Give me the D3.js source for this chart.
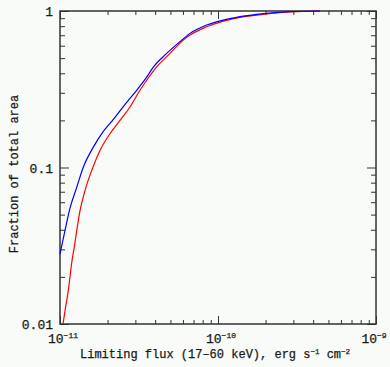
<!DOCTYPE html>
<html>
<head>
<meta charset="utf-8">
<script src="https://cdn.jsdelivr.net/npm/d3@7"></script>
<style>
  body { margin: 0; background: #f8fbf8; }
  text { font-family: "Liberation Mono", "Courier New", monospace; fill: #1a1a1a; stroke: #1a1a1a; stroke-width: 0.25px; }
</style>
</head>
<body>
<div id="chart"></div>
<script>
var width = 390;
var height = 367;
var margin = {left: 60, right: 14, top: 11, bottom: 43};

// limiting flux (erg s^-1 cm^-2) and fraction of total area
var blueFlux = [1.000e-11, 1.075e-11, 1.157e-11, 1.276e-11, 1.404e-11, 1.625e-11, 1.880e-11, 2.175e-11,
    2.643e-11, 3.057e-11, 3.537e-11, 3.895e-11, 4.734e-11, 5.747e-11, 6.648e-11, 8.483e-11,
    1.377e-10, 2.033e-10, 2.855e-10, 4.42e-10];
var blueFrac = [0.0280, 0.0395, 0.0550, 0.0747, 0.1004, 0.1349, 0.1701, 0.2031,
    0.2610, 0.3115, 0.3776, 0.4375, 0.5356, 0.6374, 0.7195, 0.8134,
    0.9194, 0.9666, 0.9897, 1.0];

var redFlux = [1.045e-11, 1.075e-11, 1.128e-11, 1.186e-11, 1.235e-11, 1.276e-11, 1.339e-11, 1.439e-11,
    1.587e-11, 1.791e-11, 2.072e-11, 2.398e-11, 2.773e-11, 3.208e-11, 3.537e-11, 4.092e-11,
    4.968e-11, 6.031e-11, 6.648e-11, 8.483e-11, 1.377e-10, 2.033e-10, 2.855e-10, 4.42e-10];
var redFrac = [0.0100, 0.0121, 0.0163, 0.0246, 0.0316, 0.0395, 0.0530, 0.0712,
    0.0957, 0.1285, 0.1644, 0.2001, 0.2435, 0.3115, 0.3611, 0.4394,
    0.5356, 0.6516, 0.7017, 0.7930, 0.9113, 0.9567, 0.9853, 1.0];

var xMajor = [1e-11, 1e-10, 1e-9];
var xMajorExp = ["-11", "-10", "-9"];
var yMajor = [0.01, 0.1, 1];
var yMajorLabels = ["0.01", "0.1", "1"];

var svg = d3.select("#chart").append("svg")
    .attr("width", width)
    .attr("height", height);

var x = d3.scaleLog().domain([1e-11, 1e-9]).range([margin.left, width - margin.right]);
var y = d3.scaleLog().domain([0.01, 1]).range([height - margin.bottom, margin.top]);

// minor tick positions 2..9 in each decade
function minors(lo, hi) {
    var out = [];
    for (var d = lo; d < hi * 0.99; d *= 10) {
        for (var k = 2; k <= 9; k++) out.push(d * k);
    }
    return out;
}
var xMinor = minors(1e-11, 1e-9);
var yMinor = minors(0.01, 1);

var tickColor = "#333";

function drawAxis(axis, transform) {
    var g = svg.append("g").attr("class", "axis").attr("transform", transform).call(axis);
    g.select(".domain").remove();
    g.selectAll(".tick line").attr("stroke", tickColor).attr("stroke-width", 1);
    return g;
}

var x0 = margin.left, x1 = width - margin.right;
var y0 = height - margin.bottom, y1 = margin.top;
var noLabel = function() { return ""; };

// inward ticks on all four sides
drawAxis(d3.axisBottom(x).tickValues(xMajor).tickSize(-8).tickFormat(noLabel), "translate(0," + y0 + ")");
drawAxis(d3.axisBottom(x).tickValues(xMinor).tickSize(-4).tickFormat(noLabel), "translate(0," + y0 + ")");
drawAxis(d3.axisTop(x).tickValues(xMajor).tickSize(-8).tickFormat(noLabel), "translate(0," + y1 + ")");
drawAxis(d3.axisTop(x).tickValues(xMinor).tickSize(-4).tickFormat(noLabel), "translate(0," + y1 + ")");
drawAxis(d3.axisLeft(y).tickValues(yMajor).tickSize(-9).tickFormat(noLabel), "translate(" + x0 + ",0)");
drawAxis(d3.axisLeft(y).tickValues(yMinor).tickSize(-5).tickFormat(noLabel), "translate(" + x0 + ",0)");
drawAxis(d3.axisRight(y).tickValues(yMajor).tickSize(-9).tickFormat(noLabel), "translate(" + x1 + ",0)");
drawAxis(d3.axisRight(y).tickValues(yMinor).tickSize(-5).tickFormat(noLabel), "translate(" + x1 + ",0)");

// frame
svg.append("rect")
    .attr("x", x0).attr("y", y1)
    .attr("width", x1 - x0).attr("height", y0 - y1)
    .attr("fill", "none")
    .attr("stroke", tickColor)
    .attr("stroke-width", 1.5);

// curves
var line = d3.line()
    .x(function(d) { return x(d[0]); })
    .y(function(d) { return y(d[1]); })
    .curve(d3.curveMonotoneX);

svg.append("path")
    .datum(d3.zip(redFlux, redFrac))
    .attr("d", line)
    .attr("fill", "none")
    .attr("stroke", "#ff0000")
    .attr("stroke-width", 1.2);

svg.append("path")
    .datum(d3.zip(blueFlux, blueFrac))
    .attr("d", line)
    .attr("fill", "none")
    .attr("stroke", "#0000ff")
    .attr("stroke-width", 1.2);

// y tick labels
svg.selectAll(".ylab")
    .data(yMajor)
    .enter().append("text")
    .attr("class", "ylab")
    .attr("x", x0 - 7)
    .attr("y", function(d) { return y(d) + 5; })
    .attr("text-anchor", "end")
    .style("font-size", "13px")
    .text(function(d, i) { return yMajorLabels[i]; });

// x tick labels 10^n
var xl = svg.selectAll(".xlab")
    .data(xMajor)
    .enter().append("text")
    .attr("class", "xlab")
    .attr("x", function(d, i) { return x(d) + (i === 2 ? -2 : 3); })
    .attr("y", y0 + 19)
    .attr("text-anchor", "middle")
    .style("font-size", "13px");
xl.append("tspan").text("10");
xl.append("tspan")
    .attr("dy", -5)
    .style("font-size", "8px")
    .text(function(d, i) { return xMajorExp[i].replace("-", "\u2212"); });

// axis titles
var xt = svg.append("text")
    .attr("x", 80)
    .attr("y", height - 9)
    .style("font-size", "12px");
xt.append("tspan").text("Limiting flux (17\u201360 keV), erg s");
xt.append("tspan").attr("dy", -4).style("font-size", "7.5px").text("\u22121");
xt.append("tspan").attr("dy", 4).text(" cm");
xt.append("tspan").attr("dy", -4).style("font-size", "7.5px").text("\u22122");

svg.append("text")
    .attr("transform", "translate(18," + 174 + ") rotate(-90)")
    .attr("text-anchor", "middle")
    .style("font-size", "12px")
    .text("Fraction of total area");
</script>
</body>
</html>
